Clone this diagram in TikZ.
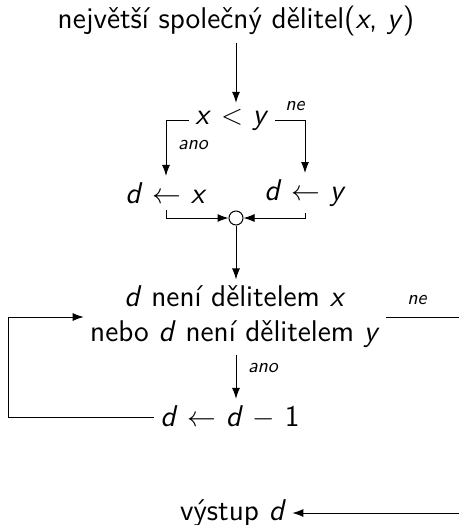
\documentclass[tikz,border=0pt]{standalone}
\usetikzlibrary{arrows.meta, positioning, calc}

\newcommand{\mv}[1]{\textit{#1}}

\tikzset{
    txt/.style={font=\sffamily\fontsize{15}{17.5}\selectfont, inner sep=3pt},
    lbl/.style={font=\sffamily\itshape\fontsize{10}{12}\selectfont, inner sep=1pt},
    arr/.style={-{Latex[length=5.5pt,width=4pt]}},
    joint/.style={circle, draw, minimum size=7pt, inner sep=0pt},
}

\begin{document}
\begin{tikzpicture}[x=0.5pt, y=-0.5pt, line width=0.5pt]
    \useasboundingbox (0,0) rectangle (459,525);
    \clip (0,0) rectangle (459,525);

    % Nodes
    \node[txt] (gcd) at (236,21) {největší společný dělitel(\mv{x}, \mv{y})};
    \node[txt] (cmp) at (232,120) {\mv{x} $<$ \mv{y}};
    \node[lbl] (ne1) at (295,106) {ne};
    \node[lbl] (ano1) at (193,145) {ano};
    \node[txt] (dx) at (166,193) {\mv{d} $\leftarrow$ \mv{x}};
    \node[txt] (dy) at (305,193) {\mv{d} $\leftarrow$ \mv{y}};
    \node[joint] (join) at (236,218) {};
    \node[txt, align=center] (dec) at (235,317) {\mv{d} není dělitelem \mv{x}\\nebo \mv{d} není dělitelem \mv{y}};
    \node[lbl] (ne2) at (417,300) {ne};
    \node[lbl] (ano2) at (263,368) {ano};
    \node[txt] (dec1) at (230,417) {\mv{d} $\leftarrow$ \mv{d} $-$ 1};
    \node[txt] (out) at (233,513) {výstup \mv{d}};
    \coordinate (rim) at (475,317);
    \coordinate (loop) at (8,417);

    % Connectors
    \draw[arr] (gcd.south -| join) -- (cmp.north -| join);
    \draw[arr] (cmp.west) -| (dx.north);
    \draw[arr] (cmp.east) -| (dy.north);
    \draw[arr] (dx.south) |- (join.west);
    \draw[arr] (dy.south) |- (join.east);
    \draw[arr] (join.south) -- (dec.north -| join);
    \draw[arr] (dec.south -| join) -- (dec1.north -| join);
    \draw[arr] (dec1.west) -- (loop) |- (dec.west);
    \draw[arr] (dec.east) -- (rim) |- (out.east);
\end{tikzpicture}
\end{document}
